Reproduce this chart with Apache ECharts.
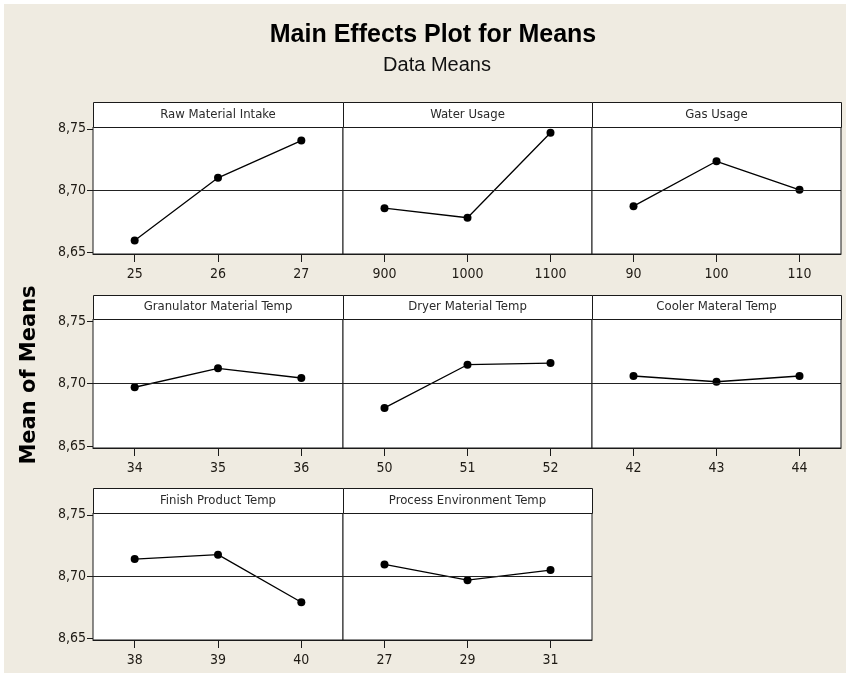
<!DOCTYPE html>
<html>
<head>
<meta charset="utf-8">
<script src="https://cdn.jsdelivr.net/npm/echarts@6.0.0/dist/echarts.min.js"></script>
<style>
  html, body { margin: 0; padding: 0; background: #fff; }
  #chart { width: 846px; height: 673px; }
</style>
</head>
<body>
<div id="chart"></div>
<script>
// factors and their levels, in panel order (row by row)
const factorNames = [
  'Raw Material Intake', 'Water Usage', 'Gas Usage',
  'Granulator Material Temp', 'Dryer Material Temp', 'Cooler Materal Temp',
  'Finish Product Temp', 'Process Environment Temp'
];
const factorLevels = [
  ['25', '26', '27'], ['900', '1000', '1100'], ['90', '100', '110'],
  ['34', '35', '36'], ['50', '51', '52'], ['42', '43', '44'],
  ['38', '39', '40'], ['27', '29', '31']
];
const factorMeans = [
  [8.6595, 8.7103, 8.7405],
  [8.6857, 8.6779, 8.7468],
  [8.6873, 8.7237, 8.7006],
  [8.6970, 8.7121, 8.7044],
  [8.6805, 8.7150, 8.7163],
  [8.7060, 8.7014, 8.7060],
  [8.7141, 8.7177, 8.6791],
  [8.7098, 8.6970, 8.7052]
];
const grandMean = 8.7035;
const yTicks = [8.65, 8.70, 8.75];

// panel layout
const colLeft = [93, 343, 592];
const colWidth = [250, 249, 249];
const rowTop = [127, 319, 513];
const rowHeight = [127, 129, 127];
const headerHeight = [25, 24, 25];
const yMin = 8.6485, yMax = 8.7515;

const tickFont = '"DejaVu Sans Condensed", "DejaVu Sans", sans-serif';
const textColor = '#1e1a14';

const chart = echarts.init(document.getElementById('chart'), null, { renderer: 'canvas' });

let grids = [], xAxes = [], yAxes = [], series = [], graphics = [];

for (let i = 0; i < factorNames.length; i++) {
  const r = Math.floor(i / 3), c = i % 3;
  grids.push({
    left: colLeft[c], top: rowTop[r], width: colWidth[c], height: rowHeight[r],
    show: true, backgroundColor: '#fff', borderColor: '#1a1a1a', borderWidth: 1
  });
  xAxes.push({
    gridIndex: i, type: 'category', data: factorLevels[i], boundaryGap: true,
    axisLine: { show: true, lineStyle: { color: '#1a1a1a', width: 1 } },
    axisTick: { show: true, alignWithLabel: true, length: 8, lineStyle: { color: '#1a1a1a' } },
    axisLabel: { margin: 13, fontSize: 14, color: textColor, fontFamily: tickFont },
    splitLine: { show: false }
  });
  const isLeft = c === 0;
  yAxes.push({
    gridIndex: i, type: 'value', min: yMin, max: yMax,
    axisLine: { show: false },
    axisTick: { show: isLeft, length: 6, customValues: yTicks, lineStyle: { color: '#1a1a1a' } },
    axisLabel: {
      show: isLeft, customValues: yTicks, margin: 7, fontSize: 14, color: textColor, fontFamily: tickFont,
      formatter: v => v.toFixed(2).replace('.', ',')
    },
    splitLine: { show: false }
  });
  series.push({
    type: 'line', xAxisIndex: i, yAxisIndex: i, data: factorMeans[i],
    symbol: 'circle', symbolSize: 8,
    itemStyle: { color: '#000' },
    lineStyle: { color: '#000', width: 1.3 },
    markLine: {
      silent: true, symbol: 'none', animation: false,
      label: { show: false },
      lineStyle: { color: '#222', width: 1, type: 'solid' },
      data: [{ yAxis: grandMean }]
    }
  });
  // panel header strip
  graphics.push({
    type: 'rect', silent: true,
    shape: { x: colLeft[c] + 0.5, y: rowTop[r] - headerHeight[r] + 0.5, width: colWidth[c], height: headerHeight[r] },
    style: { fill: '#fff', stroke: '#1a1a1a', lineWidth: 1 }
  });
  graphics.push({
    type: 'text', silent: true,
    x: colLeft[c] + colWidth[c] / 2, y: rowTop[r] - headerHeight[r] / 2,
    style: {
      text: factorNames[i], align: 'center', verticalAlign: 'middle',
      font: '13px ' + tickFont, fill: '#2a2a2a'
    }
  });
}

// y axis title
graphics.push({
  type: 'text', silent: true, x: 30, y: 375, rotation: Math.PI / 2,
  style: {
    text: 'Mean of Means', align: 'center', verticalAlign: 'middle',
    font: 'bold 21px "DejaVu Sans", sans-serif', fill: '#000'
  }
});

// beige background with thin white edge at top/left
graphics.unshift({
  type: 'rect', silent: true, z: -100,
  shape: { x: 4, y: 4, width: 842, height: 669 },
  style: { fill: '#efebe1' }
});

const option = {
  backgroundColor: '#fff',
  animation: false,
  title: [{
    text: 'Main Effects Plot for Means',
    left: 428, top: 18, textAlign: 'center',
    textStyle: { fontSize: 25, fontWeight: 'bold', color: '#000', fontFamily: '"Liberation Sans Narrow", "Liberation Sans", sans-serif' }
  }, {
    text: 'Data Means',
    left: 432, top: 50, textAlign: 'center',
    textStyle: { fontSize: 20, fontWeight: 'normal', color: '#111', fontFamily: '"Liberation Sans Narrow", "Liberation Sans", sans-serif' }
  }],
  grid: grids,
  xAxis: xAxes,
  yAxis: yAxes,
  series: series,
  graphic: graphics
};

chart.setOption(option);
</script>
</body>
</html>
